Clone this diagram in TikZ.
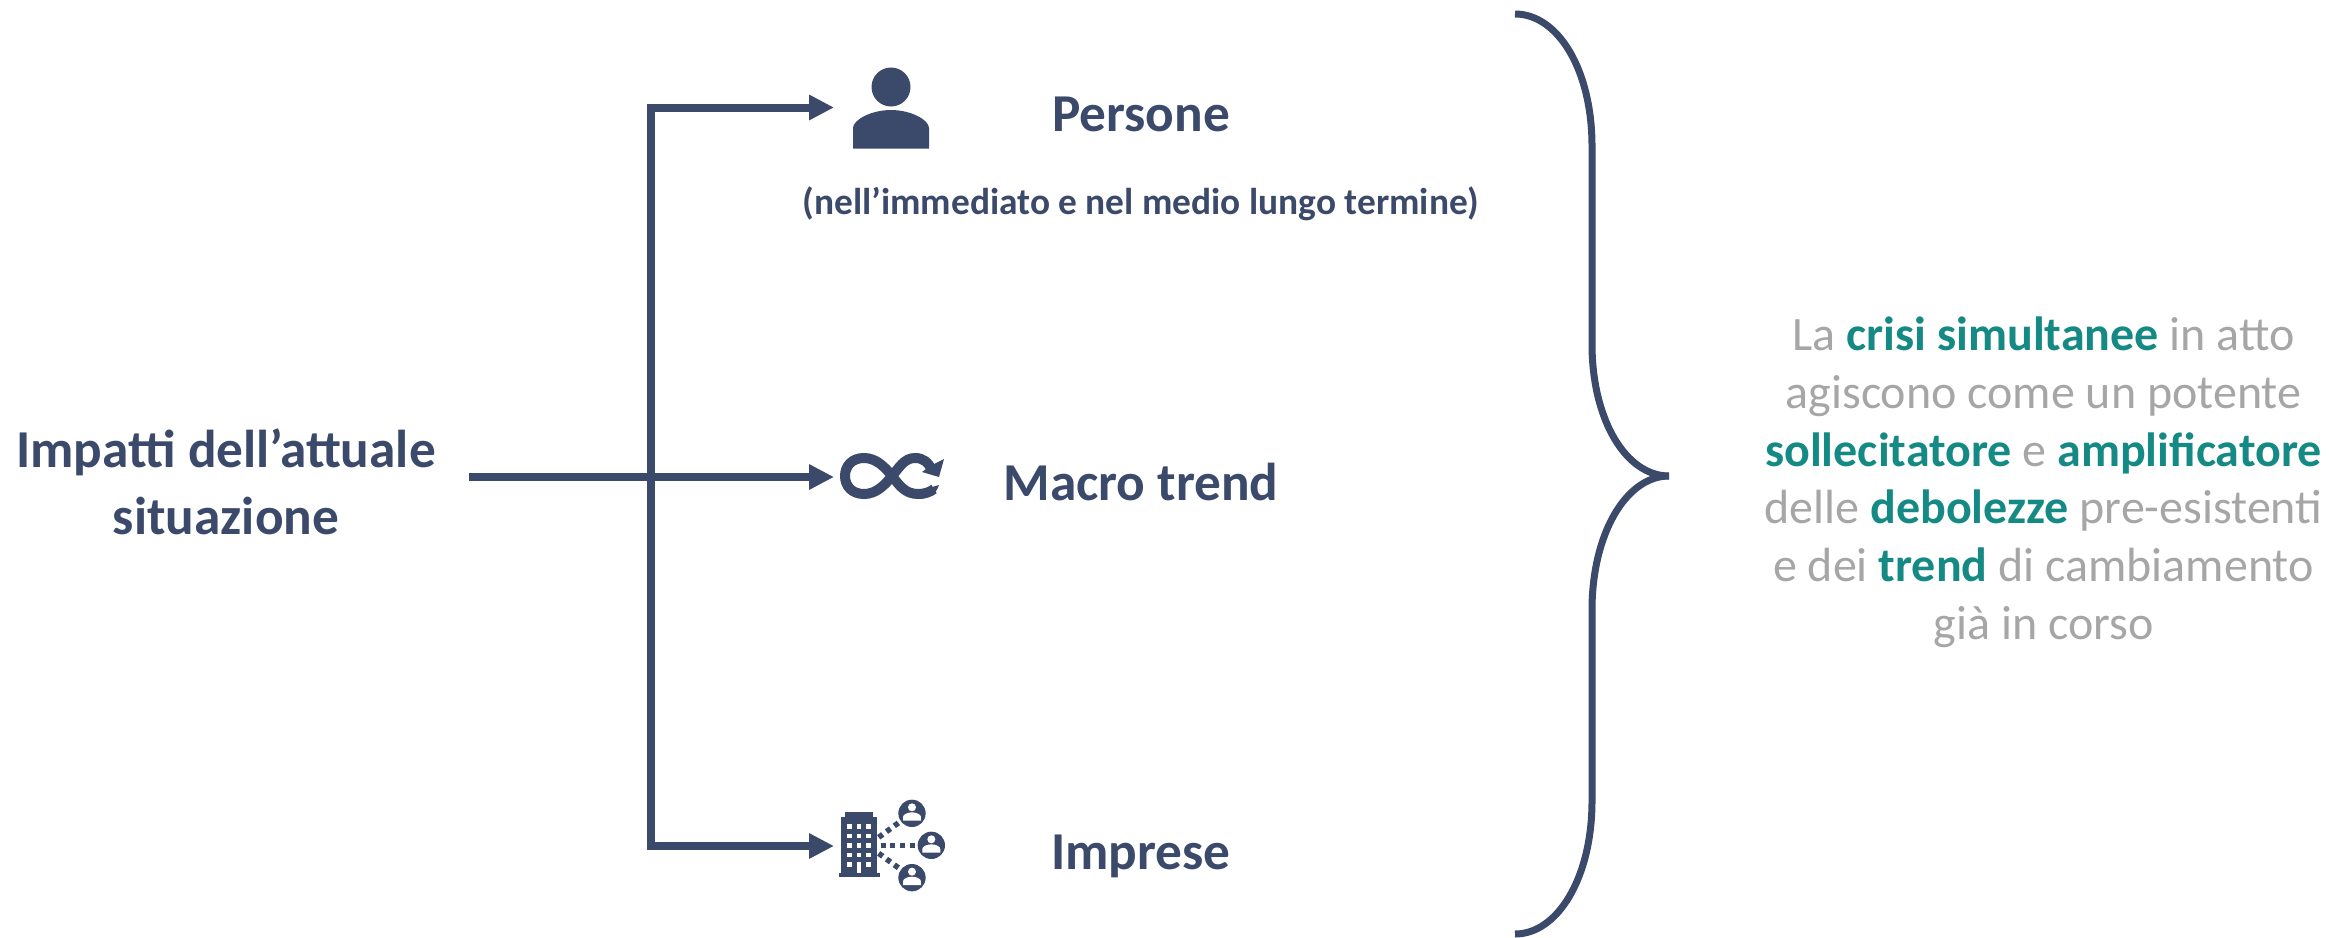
\documentclass[tikz,border=0pt]{standalone}
\usepackage{fontspec}
\setmainfont{Carlito}
\usetikzlibrary{arrows.meta}
\definecolor{navy}{HTML}{3B4A6B}
\definecolor{teal2}{HTML}{158A84}
\definecolor{grey2}{HTML}{A6A6A6}
\newcommand{\hl}[1]{\textcolor{teal2}{\textbf{#1}}}
\tikzset{
  conn/.style={draw=navy,line width=8pt},
  arr/.style={conn,-{Triangle[length=25pt,width=24pt]}},
  brace/.style={draw=navy,line width=7pt,line cap=butt},
  lab/.style={text=navy,font=\fontsize{53.3}{66.5}\selectfont\bfseries,anchor=base,inner sep=0pt},
  sublab/.style={text=navy,font=\fontsize{37.4}{44}\selectfont\bfseries,anchor=base,inner sep=0pt},
  side/.style={text=grey2,font=\fontsize{48}{57.7}\selectfont,align=center,inner sep=0pt,anchor=north},
  ink/.style={fill=navy,draw=none},
  blank/.style={fill=white,draw=none},
  dots/.style={draw=navy,line width=5.5pt,dash pattern=on 5pt off 4.7pt}
}
\begin{document}
\begin{tikzpicture}[x=1pt,y=-1pt]
\useasboundingbox (0,0) rectangle (2329,937);
% labels
\node[lab,align=center] (src) at (226,534) {Impatti dell’attuale\\situazione};
\node[lab] (persone) at (1141,131) {Persone};
\node[sublab] (note) at (1141,214) {(nell’immediato e nel medio lungo termine)};
\node[lab] (macro) at (1141,500) {Macro trend};
\node[lab] (imprese) at (1141,869) {Imprese};
\node[side] (claim) at (2043.5,317) {La \hl{crisi simultanee} in atto\\agiscono come un potente\\\hl{sollecitatore} e \hl{amplificatore}\\delle \hl{debolezze} pre-esistenti\\e dei \hl{trend} di cambiamento\\già in corso};
% connector anchors
\coordinate (start) at (469,477);
\coordinate (jt) at (651,477);
\coordinate (top) at (651,107.5);
\coordinate (bot) at (651,846);
\coordinate (i1) at (834,107.5);
\coordinate (i2) at (834,477);
\coordinate (i3) at (834,846);
\draw[arr] (start) -- (i2);
\draw[arr] (jt) -- (top) -- (i1);
\draw[arr] (jt) -- (bot) -- (i3);
% person icon
\fill[ink] (891,87) circle (19.5);
\fill[ink] (853,148.5) -- (853,128) .. controls (853,120) and (871,110) .. (891,110)
  .. controls (911,110) and (929,120) .. (929,128) -- (929,148.5) -- cycle;
% infinity icon
\draw[navy,line width=10pt] (932,470) .. controls (928,462) and (923,458) .. (915,458)
  .. controls (904,458) and (899,468) .. (892,476)
  .. controls (885,485) and (876,494) .. (864,494)
  .. controls (852,494) and (845,486) .. (845,476)
  .. controls (845,466) and (852,458) .. (864,458)
  .. controls (876,458) and (885,467) .. (892,476)
  .. controls (899,485) and (905,494) .. (918,494)
  .. controls (925,494) and (930,492) .. (934,489);
\fill[ink] (934,494.5) -- (918,499) .. controls (927,499) and (936,495) .. (939,485) -- (932,487) -- cycle;
\fill[ink] (944,459) -- (939,477) -- (922,472) -- (930,466) -- cycle;
% building icon
\begin{scope}[shift={(800,780)},x=0.3333pt,y=-0.3333pt]
  \fill[ink] (135,95) rectangle (220,114);
  \fill[ink] (124,112) rectangle (231,280);
  \fill[ink] (116,278) rectangle (239,292);
  \foreach \cx in {148,177,206}
    \foreach \cy in {139,168,197,225}
      \fill[blank] (\cx-7,\cy-7) rectangle (\cx+7,\cy+7);
  \fill[blank] (141,246) rectangle (155,260);
  \fill[blank] (199,246) rectangle (213,260);
  \fill[blank] (170,246) rectangle (184,278);
  \draw[dots] (236,172) -- (296,128);
  \draw[dots] (242,196) -- (345,196);
  \draw[dots] (236,220) -- (296,264);
  \foreach \px/\py in {336/100,394/196,336/293}{
    \fill[ink] (\px,\py) circle (41);
    \fill[blank] (\px,\py-18) circle (12);
    \fill[blank] (\px-27,\py+22) -- (\px-27,\py+11) .. controls (\px-27,\py+3) and (\px-12,\py-3) .. (\px,\py-3)
      .. controls (\px+12,\py-3) and (\px+27,\py+3) .. (\px+27,\py+11) -- (\px+27,\py+22) -- cycle;
  }
\end{scope}
% brace
\coordinate (bt) at (1515,14);
\coordinate (bm) at (1669,476);
\coordinate (bb) at (1515,934);
\draw[brace] (bt) .. controls (1558,14) and (1592,70) .. (1592,146) -- (1592,344)
  .. controls (1592,420) and (1626,476) .. (bm);
\draw[brace] (bm) .. controls (1626,476) and (1592,534) .. (1592,610) -- (1592,801)
  .. controls (1592,877) and (1558,934) .. (bb);
\end{tikzpicture}
\end{document}
